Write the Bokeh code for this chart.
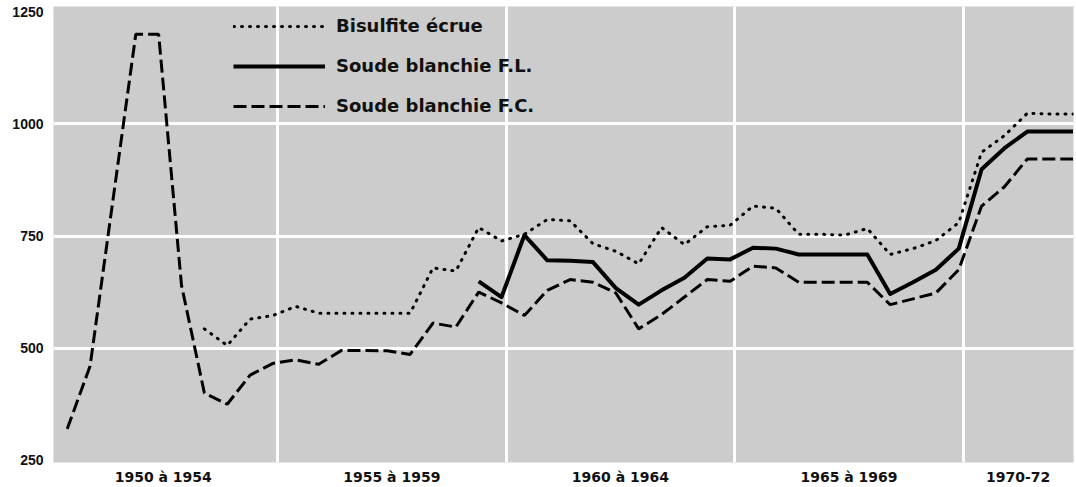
from bokeh.plotting import figure
from bokeh.models import FixedTicker, Legend, LegendItem, Range1d
from bokeh.embed import file_html
from bokeh.resources import INLINE

# ---- data ----
PERIOD_LABELS = ["1950 à 1954", "1955 à 1959", "1960 à 1964", "1965 à 1969", "1970-72"]
PERIOD_CENTERS = [1952.5, 1957.5, 1962.5, 1967.5, 1971.2]
PERIOD_BOUNDS = [1955, 1960, 1965, 1970]
Y_TICKS = [250, 500, 750, 1000, 1250]
Y_GRID = [500, 750, 1000]

# Bisulfite écrue (dotted)
BE_T = [1953.4, 1953.9, 1954.4, 1954.9, 1955.4, 1955.9, 1956.4, 1956.9, 1957.4, 1957.9,
        1958.4, 1958.9, 1959.4, 1959.9, 1960.4, 1960.9, 1961.4, 1961.9, 1962.4, 1962.9,
        1963.4, 1963.9, 1964.4, 1964.9, 1965.4, 1965.9, 1966.4, 1966.9, 1967.4, 1967.9,
        1968.4, 1968.9, 1969.4, 1969.9, 1970.4, 1970.9, 1971.4, 1971.9, 1972.4]
BE_V = [543, 506, 565, 573, 593, 578, 578, 578, 578, 578,
        679, 672, 769, 739, 754, 787, 784, 733, 716, 688,
        769, 731, 771, 774, 817, 812, 754, 754, 752, 767,
        709, 722, 740, 780, 937, 974, 1024, 1022, 1022]

# Soude blanchie F.L. (solid)
FL_T = [1959.4, 1959.9, 1960.4, 1960.9, 1961.4, 1961.9, 1962.4, 1962.9, 1963.4, 1963.9,
        1964.4, 1964.9, 1965.4, 1965.9, 1966.4, 1966.9, 1967.4, 1967.9, 1968.4, 1968.9,
        1969.4, 1969.9, 1970.4, 1970.9, 1971.4, 1971.9, 1972.4]
FL_V = [649, 614, 752, 696, 695, 692, 634, 597, 629, 657,
        700, 698, 724, 722, 709, 709, 709, 709, 621, 647,
        675, 722, 899, 946, 983, 983, 983]

# Soude blanchie F.C. (dashed)
FC_T = [1950.4, 1950.9, 1951.9, 1952.4, 1952.9, 1953.4, 1953.9, 1954.4, 1954.9, 1955.4,
        1955.9, 1956.4, 1956.9, 1957.4, 1957.9, 1958.4, 1958.9, 1959.4, 1959.9, 1960.4,
        1960.9, 1961.4, 1961.9, 1962.4, 1962.9, 1963.4, 1963.9, 1964.4, 1964.9, 1965.4,
        1965.9, 1966.4, 1966.9, 1967.4, 1967.9, 1968.4, 1968.9, 1969.4, 1969.9, 1970.4,
        1970.9, 1971.4, 1971.9, 1972.4]
FC_V = [320, 460, 1200, 1200, 640, 400, 375, 440, 466, 474,
        464, 495, 495, 494, 486, 556, 547, 625, 601, 573,
        629, 653, 647, 623, 543, 575, 614, 653, 649, 683,
        679, 647, 647, 647, 647, 597, 610, 623, 675, 817,
        860, 922, 922, 922]

SERIES_NAMES = ["Bisulfite écrue", "Soude blanchie F.L.", "Soude blanchie F.C."]

# ---- figure ----
p = figure(width=1076, height=487,
           x_range=Range1d(1950.1, 1972.41), y_range=Range1d(245, 1262),
           output_backend="svg", toolbar_location=None,
           min_border_left=53, min_border_right=3, min_border_top=6, min_border_bottom=25)

p.background_fill_color = "#cccccc"
p.border_fill_color = "white"
p.outline_line_color = None

# grid
p.xgrid.ticker = FixedTicker(ticks=PERIOD_BOUNDS)
p.ygrid.ticker = FixedTicker(ticks=Y_GRID)
for g in (p.xgrid[0], p.ygrid[0]):
    g.grid_line_color = "white"
    g.grid_line_width = 3
    g.grid_line_alpha = 1.0

# axes
p.xaxis.ticker = FixedTicker(ticks=PERIOD_CENTERS)
p.xaxis.major_label_overrides = {c: l for c, l in zip(PERIOD_CENTERS, PERIOD_LABELS)}
p.yaxis.ticker = FixedTicker(ticks=Y_TICKS)
for ax in (p.xaxis[0], p.yaxis[0]):
    ax.axis_line_color = None
    ax.major_tick_line_color = None
    ax.minor_tick_line_color = None
    ax.major_tick_out = 0
    ax.major_tick_in = 0
    ax.major_label_text_font_style = "bold"
    ax.major_label_text_color = "#111111"
p.xaxis.major_label_text_font = "DejaVu Sans"
p.xaxis.major_label_text_font_size = "14px"
p.xaxis.major_label_standoff = 6
p.yaxis.major_label_text_font = "Liberation Sans"
p.yaxis.major_label_text_font_size = "14px"
p.yaxis.major_label_standoff = 10

# lines
r_be = p.line(BE_T, BE_V, line_color="black", line_width=3,
              line_dash="1 7", line_cap="round")
r_fl = p.line(FL_T, FL_V, line_color="black", line_width=4, line_join="round")
r_fc = p.line(FC_T, FC_V, line_color="black", line_width=3, line_dash="13 5")

legend = Legend(items=[LegendItem(label=SERIES_NAMES[0], renderers=[r_be]),
                       LegendItem(label=SERIES_NAMES[1], renderers=[r_fl]),
                       LegendItem(label=SERIES_NAMES[2], renderers=[r_fc])],
                location=(180, 346))
legend.background_fill_alpha = 0
legend.border_line_color = None
legend.padding = 0
legend.margin = 0
legend.glyph_width = 92
legend.glyph_height = 20
legend.label_height = 20
legend.spacing = 19
legend.label_standoff = 11
legend.label_text_font = "DejaVu Sans"
legend.label_text_font_style = "bold"
legend.label_text_font_size = "18px"
legend.label_text_color = "#111111"
p.add_layout(legend, "center")

open("out.html", "w").write(file_html(p, INLINE))
